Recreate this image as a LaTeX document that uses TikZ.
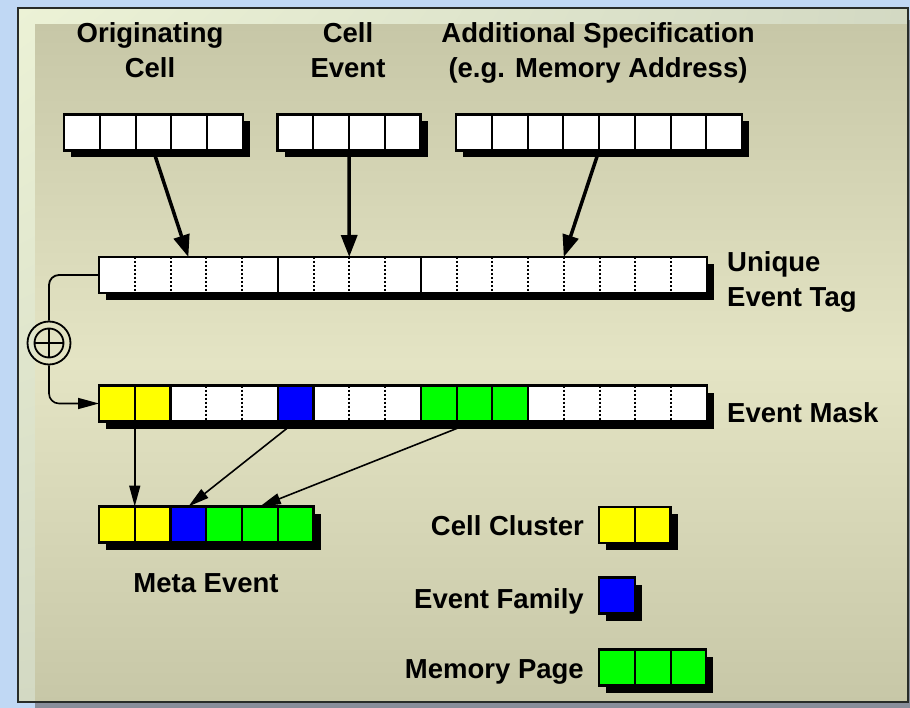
\documentclass[tikz,border=0pt]{standalone}
\usepackage{fontspec}
\setmainfont{Liberation Sans}
\usetikzlibrary{positioning,shadows,shadings,arrows.meta}

\definecolor{bgblue}{RGB}{192,216,244}
\definecolor{panelshade}{RGB}{136,142,154}
\definecolor{panelline}{RGB}{40,44,40}
\definecolor{bevelhi}{RGB}{236,242,214}
\definecolor{bevello}{RGB}{211,217,195}
\definecolor{paneledge}{RGB}{199,199,167}
\definecolor{panelmid}{RGB}{228,228,196}
\definecolor{cluster}{RGB}{255,255,0}
\definecolor{family}{RGB}{0,0,255}
\definecolor{page}{RGB}{0,255,0}

\tikzset{
  lbl/.style={font=\bfseries\fontsize{27.5}{35}\selectfont, inner sep=0pt},
  seg/.style={draw=black, line width=2.4pt, fill=white, inner sep=0pt, outer sep=0pt,
    minimum height=36pt, minimum width=#1*35.75pt,
    drop shadow={shadow xshift=7pt, shadow yshift=-7pt, fill=black, opacity=1}},
  cellrule/.style={line width=2pt},
  dotrule/.style={line width=2pt, dash pattern=on 2pt off 2pt},
  bigarrow/.style={line width=3.5pt, -{Triangle[length=22pt,width=16pt]}},
  thinarrow/.style={line width=1.6pt, -{Triangle[length=21pt,width=11pt]}},
}

\begin{document}
\begin{tikzpicture}[x=1pt,y=-1pt]
	\useasboundingbox (0,0) rectangle (910,708);

	% panel
	\fill[bgblue] (0,0) rectangle (910,708);
	\fill[panelshade] (35,20) rectangle (910,708);
	\shade[upper left=bevelhi, upper right=bevello, lower left=bevello, lower right=bevello] (18,8) rectangle (908,702);
	\shade[shading angle=-45, top color=paneledge, bottom color=paneledge, middle color=panelmid] (35,25) rectangle (908,702);
	\draw[panelline, line width=1.5pt] (18,8) rectangle (908,702);

	% source fields
	\node[seg=5, anchor=west] (orig) at (64,132.5) {};
	\node[seg=4, anchor=west] (evt) at (277.5,132.5) {};
	\node[seg=8, anchor=west] (spec) at (456,132.5) {};
	\foreach \k in {1,...,4} \draw[cellrule] ([xshift=\k*35.75pt]orig.north west) -- ([xshift=\k*35.75pt]orig.south west);
	\foreach \k in {1,...,3} \draw[cellrule] ([xshift=\k*35.75pt]evt.north west) -- ([xshift=\k*35.75pt]evt.south west);
	\foreach \k in {1,...,7} \draw[cellrule] ([xshift=\k*35.75pt]spec.north west) -- ([xshift=\k*35.75pt]spec.south west);

	\node[lbl, align=center, anchor=base] (origLbl) at (150,78) {Originating\\Cell};
	\node[lbl, align=center, anchor=base] (evtLbl) at (348,78) {Cell\\Event};
	\node[lbl, align=center, anchor=base] (specLbl) at (598,78) {Additional Specification\\(e.g. Memory Address)};

	% unique event tag
	\node[seg=5, anchor=west] (tagA) at (99,275) {};
	\node[seg=4, right=0pt of tagA] (tagB) {};
	\node[seg=8, right=0pt of tagB] (tagC) {};
	\foreach \k in {1,...,4} \draw[dotrule] ([xshift=\k*35.75pt]tagA.north west) -- ([xshift=\k*35.75pt]tagA.south west);
	\foreach \k in {1,...,3} \draw[dotrule] ([xshift=\k*35.75pt]tagB.north west) -- ([xshift=\k*35.75pt]tagB.south west);
	\foreach \k in {1,...,7} \draw[dotrule] ([xshift=\k*35.75pt]tagC.north west) -- ([xshift=\k*35.75pt]tagC.south west);
	\node[lbl, align=left, anchor=base west] (tagLbl) at (727,307) {Unique\\Event Tag};

	% event mask
	\node[seg=2, fill=cluster, anchor=west] (maskCluster) at (99,403.5) {};
	\node[seg=3, right=0pt of maskCluster] (maskW1) {};
	\node[seg=1, fill=family, right=0pt of maskW1] (maskFam) {};
	\node[seg=3, right=0pt of maskFam] (maskW2) {};
	\node[seg=3, fill=page, right=0pt of maskW2] (maskPage) {};
	\node[seg=5, right=0pt of maskPage] (maskW3) {};
	\draw[cellrule] (maskCluster.north) -- (maskCluster.south);
	\foreach \k in {1,2} \draw[cellrule] ([xshift=\k*35.75pt]maskPage.north west) -- ([xshift=\k*35.75pt]maskPage.south west);
	\foreach \k in {1,2} \draw[dotrule] ([xshift=\k*35.75pt]maskW1.north west) -- ([xshift=\k*35.75pt]maskW1.south west);
	\foreach \k in {1,2} \draw[dotrule] ([xshift=\k*35.75pt]maskW2.north west) -- ([xshift=\k*35.75pt]maskW2.south west);
	\foreach \k in {1,...,4} \draw[dotrule] ([xshift=\k*35.75pt]maskW3.north west) -- ([xshift=\k*35.75pt]maskW3.south west);
	\node[lbl, anchor=base west] (maskLbl) at (727,422) {Event Mask};

	% meta event
	\node[seg=2, fill=cluster, anchor=west] (metaCluster) at (99,524.5) {};
	\node[seg=1, fill=family, right=0pt of metaCluster] (metaFam) {};
	\node[seg=3, fill=page, right=0pt of metaFam] (metaPage) {};
	\draw[cellrule] (metaCluster.north) -- (metaCluster.south);
	\foreach \k in {1,2} \draw[cellrule] ([xshift=\k*35.75pt]metaPage.north west) -- ([xshift=\k*35.75pt]metaPage.south west);
	\node[lbl, anchor=base] (metaLbl) at (206,592) {Meta Event};

	% legend
	\node[seg=2, fill=cluster, anchor=west] (legCluster) at (599,525) {};
	\node[seg=1, fill=family, anchor=west] (legFam) at (599,595.5) {};
	\node[seg=3, fill=page, anchor=west] (legPage) at (599,667.5) {};
	\draw[cellrule] (legCluster.north) -- (legCluster.south);
	\foreach \k in {1,2} \draw[cellrule] ([xshift=\k*35.75pt]legPage.north west) -- ([xshift=\k*35.75pt]legPage.south west);
	\node[lbl, anchor=base east] (legClusterLbl) at (584,535) {Cell Cluster};
	\node[lbl, anchor=base east] (legFamLbl) at (584,608) {Event Family};
	\node[lbl, anchor=base east] (legPageLbl) at (584,678) {Memory Page};

	% xor
	\node[draw, circle, line width=1.8pt, minimum size=43pt, inner sep=0pt] (xor) at (49,343) {};
	\draw[line width=1.8pt] (xor.center) circle (14.5pt);
	\draw[line width=1.8pt] ([xshift=-14.5pt]xor.center) -- ([xshift=14.5pt]xor.center);
	\draw[line width=1.8pt] ([yshift=-14.5pt]xor.center) -- ([yshift=14.5pt]xor.center);
	\draw[line width=1.8pt, rounded corners=10pt] (tagA.west) -| (xor.north);
	\draw[thinarrow, rounded corners=10pt] (xor.south) |- (maskCluster.west);

	% arrows
	\draw[bigarrow] (orig.south) -- (tagA.north);
	\draw[bigarrow] (evt.south) -- (tagB.north);
	\draw[bigarrow] (spec.south) -- (tagC.north);

	\draw[thinarrow] (maskCluster.south) -- (metaCluster.north);
	\draw[thinarrow] (maskFam.south) -- (metaFam.north);
	\draw[thinarrow] (maskPage.south) -- (metaPage.north);
\end{tikzpicture}
\end{document}
